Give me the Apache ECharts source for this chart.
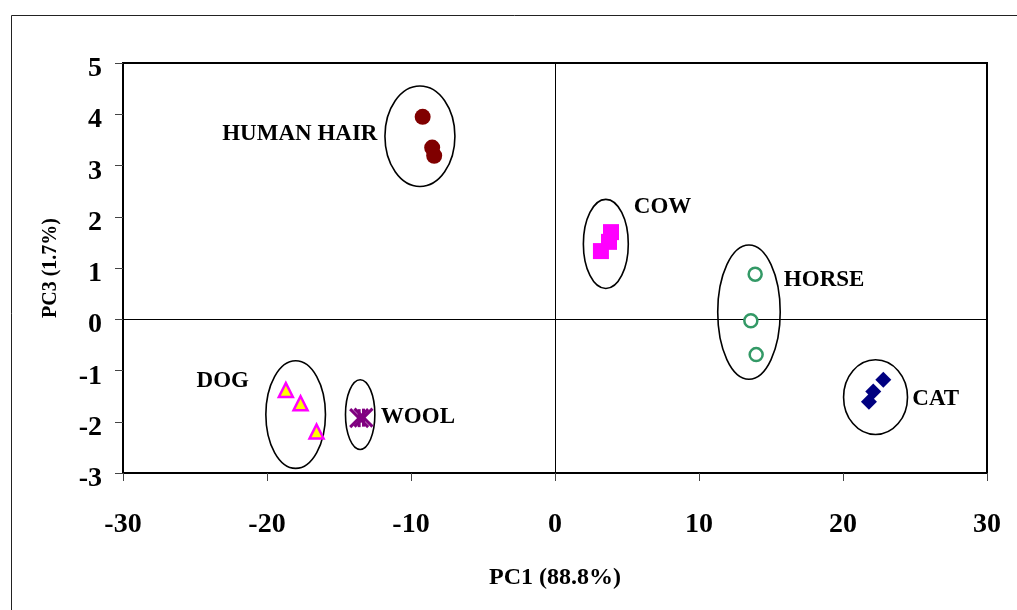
<!DOCTYPE html>
<html>
<head>
<meta charset="utf-8">
<script src="https://cdn.jsdelivr.net/npm/echarts@6/dist/echarts.min.js"></script>
<style>
  html, body { margin: 0; padding: 0; background: #fff; }
  #chart { width: 1017px; height: 610px; }
</style>
</head>
<body>
<div id="chart"></div>
<script>
// PCA scores (PC1 vs PC3) of keratin fibre samples
const humanHair = [[-9.19, 3.95], [-8.53, 3.35], [-8.39, 3.19]];
const cow = [[3.89, 1.70], [3.75, 1.51], [3.19, 1.33]];
const horse = [[13.9, 0.88], [13.6, -0.03], [13.97, -0.69]];
const cat = [[22.8, -1.18], [22.1, -1.41], [21.8, -1.61]];
const dog = [[-18.69, -1.38], [-17.67, -1.64], [-16.56, -2.19]];
const wool = [[-13.6, -1.93], [-13.3, -1.92]];

// Group outlines: [centre PC1, centre PC3, half-width PC1, half-height PC3]
const groupEllipses = [
  [-9.38, 3.57, 2.43, 0.98],
  [3.53, 1.47, 1.56, 0.87],
  [13.47, 0.14, 2.17, 1.31],
  [22.26, -1.52, 2.22, 0.73],
  [-18.01, -1.86, 2.07, 1.05],
  [-13.53, -1.86, 1.02, 0.68]
];

// Group names and where their captions sit (axis units)
const groupNames = ['HUMAN HAIR', 'COW', 'HORSE', 'CAT', 'DOG', 'WOOL'];
const captionAnchors = [[-17.72, 3.62], [7.47, 2.19], [18.69, 0.76], [26.44, -1.56], [-23.07, -1.20], [-9.52, -1.91]];

const xTicks = { min: -30, max: 30, interval: 10 };
const yTicks = { min: -3, max: 5, interval: 1 };
const xTitle = 'PC1 (88.8%)';
const yTitle = 'PC3 (1.7%)';

const serif = 'Liberation Serif';
const chart = echarts.init(document.getElementById('chart'), null, { renderer: 'canvas' });

function scatter(name, data, symbol, size, itemStyle) {
  return {
    name, type: 'scatter', data, symbol, symbolSize: size,
    itemStyle: Object.assign({ opacity: 1 }, itemStyle), z: 5, silent: true
  };
}

chart.setOption({
  animation: false,
  backgroundColor: '#fff',
  graphic: [{
    type: 'rect', left: 9, top: 13, z: -10, silent: true,
    shape: { width: 1100, height: 700 },
    style: { fill: 'none', stroke: '#222', lineWidth: 1 }
  }],
  grid: { left: 123, right: 30, top: 63, bottom: 137, show: true, borderColor: '#000', borderWidth: 2, backgroundColor: 'transparent' },
  xAxis: {
    type: 'value', min: xTicks.min, max: xTicks.max, interval: xTicks.interval,
    axisLine: { show: true, onZero: false, lineStyle: { color: '#000', width: 2 } },
    axisTick: { show: true, length: 8, lineStyle: { color: '#444', width: 1 } },
    splitLine: { show: false },
    axisLabel: { color: '#000', fontFamily: serif, fontWeight: 'bold', fontSize: 28, margin: 38 },
    name: xTitle, nameLocation: 'middle', nameGap: 93,
    nameTextStyle: { color: '#000', fontFamily: serif, fontWeight: 'bold', fontSize: 24 }
  },
  yAxis: {
    type: 'value', min: yTicks.min, max: yTicks.max, interval: yTicks.interval,
    axisLine: { show: true, onZero: false, lineStyle: { color: '#000', width: 2 } },
    axisTick: { show: true, length: 8, lineStyle: { color: '#444', width: 1 } },
    splitLine: { show: false },
    axisLabel: {
      margin: 21, formatter: '{t|{value}}',
      rich: { t: { color: '#000', fontFamily: serif, fontWeight: 'bold', fontSize: 28, padding: [12, 0, 0, 0] } }
    },
    name: yTitle, nameLocation: 'middle', nameGap: 62, nameRotate: 90,
    nameTextStyle: { color: '#000', fontFamily: serif, fontWeight: 'bold', fontSize: 20 }
  },
  series: [
    // zero lines
    {
      type: 'line', data: [], silent: true,
      markLine: {
        silent: true, symbol: 'none', label: { show: false }, animation: false,
        lineStyle: { color: '#000', width: 1, type: 'solid' },
        data: [{ xAxis: 0 }, { yAxis: 0 }]
      }
    },
    // group ellipses
    {
      type: 'custom', data: groupEllipses, silent: true, z: 3,
      renderItem(params, api) {
        const c = api.coord([api.value(0), api.value(1)]);
        const s = api.size([api.value(2), api.value(3)]);
        return {
          type: 'ellipse',
          shape: { cx: c[0], cy: c[1], rx: s[0], ry: s[1] },
          style: { fill: 'none', stroke: '#000', lineWidth: 1.6 }
        };
      }
    },
    scatter('HUMAN HAIR', humanHair, 'circle', 16, { color: '#800000' }),
    scatter('COW', cow, 'rect', 16, { color: '#ff00ff' }),
    scatter('HORSE', horse, 'circle', 13, { color: '#fff', borderColor: '#339966', borderWidth: 2.5 }),
    scatter('CAT', cat, 'diamond', 16, { color: '#000080' }),
    scatter('DOG', dog, 'triangle', 14, { color: '#ffff00', borderColor: '#ff00ff', borderWidth: 2.5 }),
    // wool: asterisk markers
    {
      name: 'WOOL', type: 'custom', data: wool, silent: true, z: 5,
      renderItem(params, api) {
        const p = api.coord([api.value(0), api.value(1)]);
        const h = 9;
        const st = { stroke: '#800080', lineWidth: 3, lineCap: 'butt' };
        return {
          type: 'group',
          children: [
            { type: 'line', shape: { x1: p[0] - h, y1: p[1] - h, x2: p[0] + h, y2: p[1] + h }, style: st },
            { type: 'line', shape: { x1: p[0] - h, y1: p[1] + h, x2: p[0] + h, y2: p[1] - h }, style: st },
            { type: 'line', shape: { x1: p[0], y1: p[1] - h, x2: p[0], y2: p[1] + h }, style: st }
          ]
        };
      }
    },
    // group captions
    {
      type: 'scatter', symbolSize: 0, silent: true, z: 6,
      itemStyle: { opacity: 1 },
      data: captionAnchors.map((a, i) => ({ value: a, name: groupNames[i] })),
      label: {
        show: true, position: 'inside', formatter: '{b}',
        color: '#000', fontFamily: serif, fontWeight: 'bold', fontSize: 23
      }
    }
  ]
});
</script>
</body>
</html>
